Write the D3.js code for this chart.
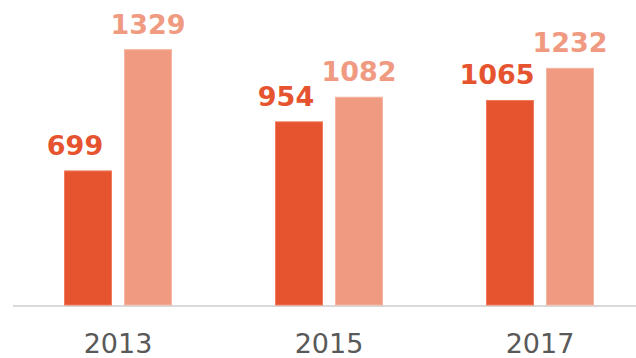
<!DOCTYPE html>
<html>
<head>
<meta charset="utf-8">
<script src="https://cdn.jsdelivr.net/npm/d3@7/dist/d3.min.js"></script>
<style>
  html, body { margin: 0; padding: 0; background: #fff; }
  svg { display: block; }
</style>
</head>
<body>
<svg id="chart" width="636" height="358"></svg>
<script>
// Years on the axis and the two series per year
const years = ["2013", "2015", "2017"];
const seriesNames = ["a", "b"];
const seriesA = [699, 954, 1065];
const seriesB = [1329, 1082, 1232];

const fills = { a: "#E6532F", b: "#F09A82" };
const strokes = { a: "#F07A5C", b: "#F6B4A2" };

const rows = years.map((yr, i) => ({ year: yr, a: seriesA[i], b: seriesB[i] }));

const svg = d3.select("#chart");

const x0 = d3.scaleBand().domain(years).range([12.5, 645.5]).paddingInner(0).paddingOuter(0);
const x1 = d3.scaleBand().domain(seriesNames).range([-54, 54]).paddingInner(0.2).paddingOuter(0);
const y = d3.scaleLinear().domain([0, 1400]).range([305.5, 36]);

const center = yr => x0(yr) + x0.bandwidth() / 2;

// baseline
svg.append("line")
  .attr("x1", 13).attr("x2", 636)
  .attr("y1", 306).attr("y2", 306)
  .attr("stroke", "#D9D9D9").attr("stroke-width", 2);

const groups = svg.selectAll("g.year")
  .data(rows)
  .join("g")
  .attr("class", "year")
  .attr("transform", d => `translate(${center(d.year)},0)`);

groups.selectAll("rect")
  .data(d => seriesNames.map(k => ({ key: k, value: d[k] })))
  .join("rect")
  .attr("x", d => x1(d.key) + 0.5)
  .attr("width", x1.bandwidth() - 1)
  .attr("y", d => y(d.value))
  .attr("height", d => y(0) - y(d.value) - 0.5)
  .attr("fill", d => fills[d.key])
  .attr("stroke", d => strokes[d.key])
  .attr("stroke-width", 1);

// value labels above the bars
groups.selectAll("text.val")
  .data(d => seriesNames.map(k => ({ key: k, value: d[k] })))
  .join("text")
  .attr("class", "val")
  .attr("x", d => x1(d.key) + x1.bandwidth() / 2 + (d.key === "a" ? -13 : 0))
  .attr("y", d => y(d.value) - 16)
  .attr("text-anchor", "middle")
  .attr("font-family", "'DejaVu Sans', Verdana, sans-serif")
  .attr("font-weight", "bold")
  .attr("font-size", 27)
  .attr("fill", d => fills[d.key])
  .text(d => d.value);

// category axis labels
svg.append("g")
  .selectAll("text")
  .data(years)
  .join("text")
  .attr("x", d => center(d))
  .attr("y", 352.5)
  .attr("text-anchor", "middle")
  .attr("font-family", "'DejaVu Sans', Verdana, sans-serif")
  .attr("font-size", 27)
  .attr("fill", "#595959")
  .text(d => d);
</script>
</body>
</html>
